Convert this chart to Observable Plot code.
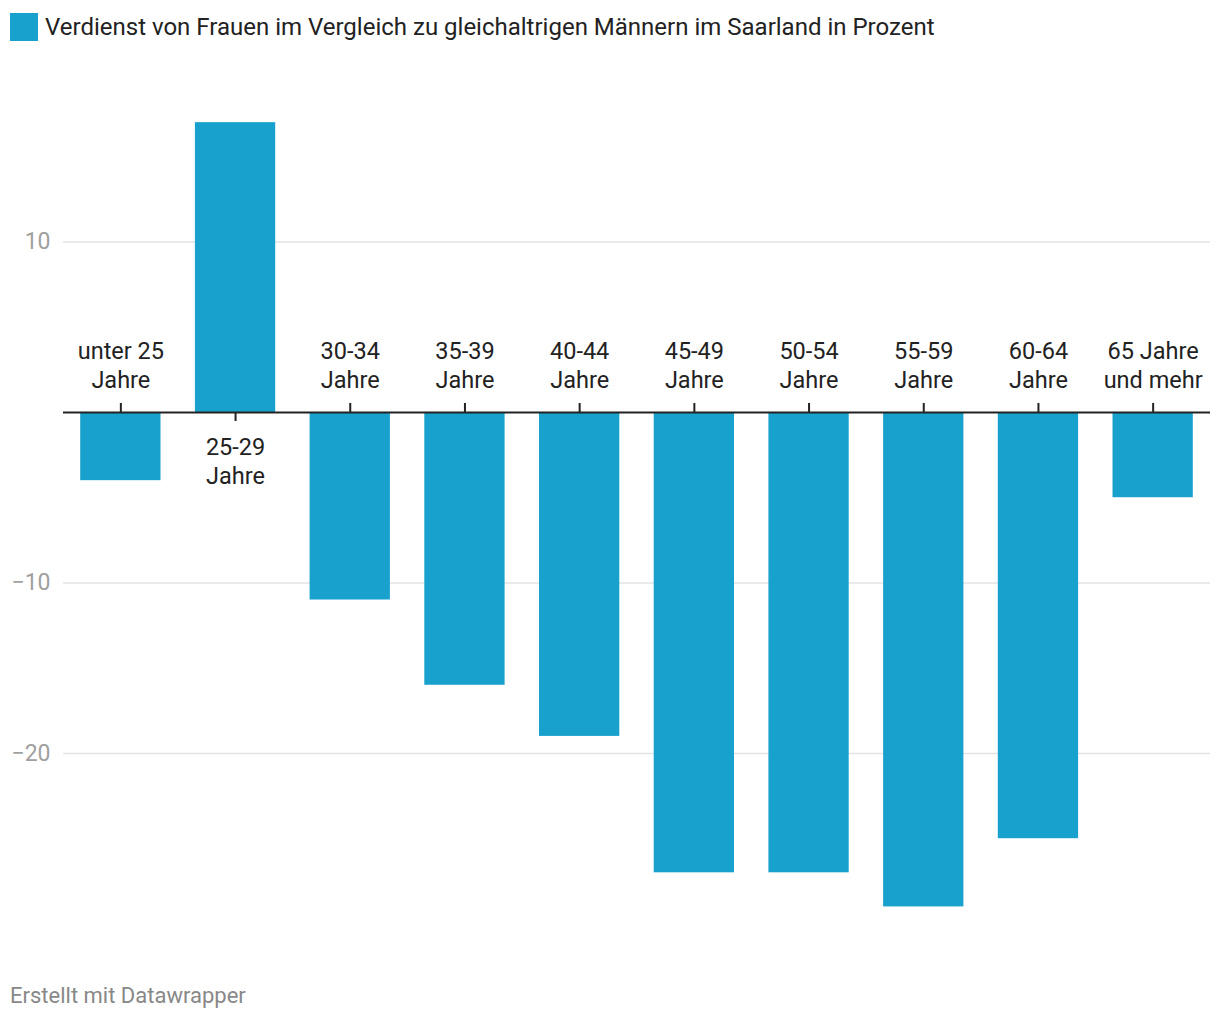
<!DOCTYPE html>
<html>
<head>
<meta charset="utf-8">
<script src="https://cdn.jsdelivr.net/npm/d3@7"></script>
<script src="https://cdn.jsdelivr.net/npm/@observablehq/plot@0.6"></script>
<style>
  html, body { margin: 0; padding: 0; background: #fff; }
  body { width: 1220px; height: 1020px; position: relative; font-family: Roboto, "Noto Sans", sans-serif; }
  #legend { height: 60px; box-sizing: border-box; padding: 13px 0 0 10px; display: flex; align-items: flex-start; }
  #legend .sw { width: 28px; height: 28px; background: #18a1cd; margin-right: 7px; flex: none; }
  #legend .lb { font-size: 24px; color: #222; line-height: 28px; }
  #chart svg { display: block; }
  #footer { position: absolute; left: 10px; top: 983px; font-size: 22px; color: #888; }
</style>
</head>
<body>
<div id="legend"><div class="sw"></div><div class="lb">Verdienst von Frauen im Vergleich zu gleichaltrigen Männern im Saarland in Prozent</div></div>
<div id="chart"></div>
<div id="footer">Erstellt mit Datawrapper</div>
<script>
const categories = ["unter 25\nJahre", "25-29\nJahre", "30-34\nJahre", "35-39\nJahre", "40-44\nJahre", "45-49\nJahre", "50-54\nJahre", "55-59\nJahre", "60-64\nJahre", "65 Jahre\nund mehr"];
const values = [-4, 17, -11, -16, -19, -27, -27, -29, -25, -5];
const yTicks = [-20, -10, 10];
const barColor = "#18a1cd";

const data = categories.map((c, i) => ({cat: c, value: values[i]}));
const tickLen = 9 / 17; // tick length expressed in value units (~17px per unit)
const fmt = d => d < 0 ? "\u2212" + Math.abs(d) : String(d);

const chart = Plot.plot({
  width: 1220,
  height: 900,
  marginTop: 11,
  marginBottom: 19.5,
  marginLeft: 63,
  marginRight: 10,
  style: {fontFamily: "Roboto, 'Noto Sans', sans-serif", fontSize: "23px", background: "#fff"},
  x: {domain: categories, paddingInner: 0.3, paddingOuter: 0.15, round: false, axis: null},
  y: {domain: [-31, 20], label: null},
  marks: [
    Plot.ruleY(yTicks, {stroke: "#e3e3e3", strokeWidth: 1.5}),
    Plot.axisY({ticks: yTicks, tickSize: 0, tickPadding: 13, tickFormat: fmt, label: null, color: "#a0a0a0", fontSize: 23}),
    Plot.barY(data, {x: "cat", y: "value", fill: barColor}),
    Plot.ruleY([0], {stroke: "#222", strokeWidth: 2}),
    Plot.ruleX(data, {x: "cat", y1: 0, y2: d => d.value < 0 ? tickLen : -tickLen, stroke: "#222", strokeWidth: 2}),
    Plot.text(data.filter(d => d.value < 0), {x: "cat", y: 0, text: "cat", dy: -48, lineAnchor: "middle", lineHeight: 1.2, fill: "#222", fontSize: 23.5}),
    Plot.text(data.filter(d => d.value >= 0), {x: "cat", y: 0, text: "cat", dy: 48, lineAnchor: "middle", lineHeight: 1.2, fill: "#222", fontSize: 23.5})
  ]
});
document.getElementById("chart").appendChild(chart);
</script>
</body>
</html>
